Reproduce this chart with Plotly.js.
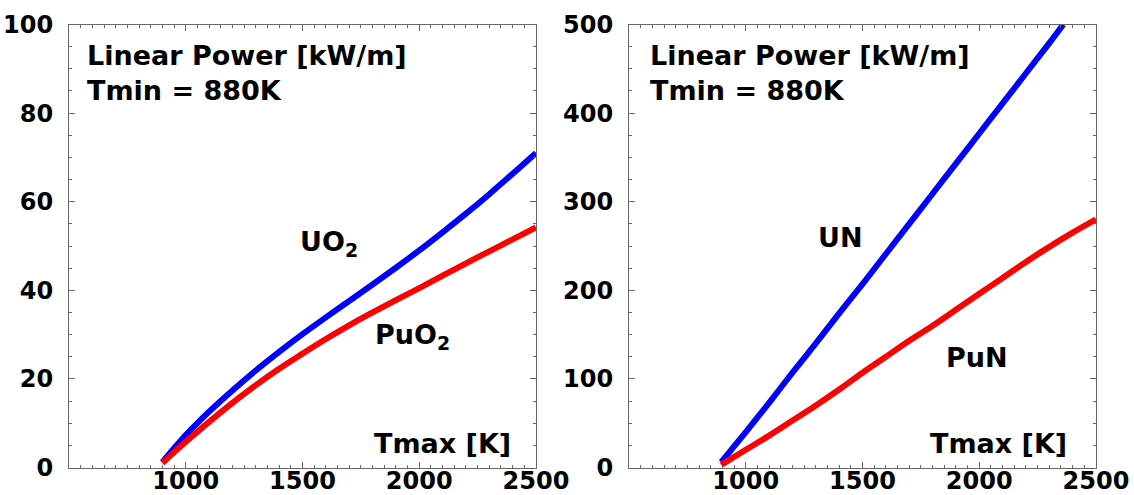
<!DOCTYPE html>
<html>
<head>
<meta charset="utf-8">
<script src="https://cdn.plot.ly/plotly-3.0.1.min.js"></script>
<style>html,body{margin:0;padding:0;background:#fff;}#chart{width:1134px;height:495px;}</style>
</head>
<body>
<div id="chart"></div>
<script>
// Left panel: oxide fuels
const tmaxUO2 = [900, 1000, 1100, 1200, 1300, 1400, 1500, 1600, 1700, 1800, 1900, 2000, 2100, 2200, 2300, 2400, 2500];
const powerUO2 = [1.2, 7.3, 12.6, 17.4, 21.9, 26.1, 30.1, 33.9, 37.6, 41.3, 45.1, 49.0, 53.1, 57.3, 61.7, 66.3, 71.0];
const tmaxPuO2 = [900, 1000, 1100, 1200, 1300, 1400, 1500, 1600, 1700, 1800, 1900, 2000, 2100, 2200, 2300, 2400, 2500];
const powerPuO2 = [1.0, 5.8, 10.3, 14.6, 18.6, 22.3, 25.7, 29.0, 32.1, 35.0, 37.8, 40.5, 43.3, 46.1, 48.8, 51.5, 54.2];
// Right panel: nitride fuels
const tmaxUN = [895, 1000, 1100, 1200, 1300, 1400, 1500, 1600, 1700, 1800, 1900, 2000, 2100, 2200, 2300, 2360];
const powerUN = [6, 40, 73, 107, 140, 174, 207, 241, 275, 309, 343, 377, 411, 445, 479, 500];
const tmaxPuN = [895, 1000, 1100, 1200, 1300, 1400, 1500, 1600, 1700, 1800, 1900, 2000, 2100, 2200, 2300, 2400, 2500];
const powerPuN = [3, 20, 36, 53, 70, 88, 107, 125, 143, 160, 178, 196, 214, 232, 249, 265, 280];

const xTickVals = [1000, 1500, 2000, 2500];
const xTickText = ['1000', '1500', '2000', '2500'];
const yTickLeft = [0, 20, 40, 60, 80, 100];
const yTickRight = [0, 100, 200, 300, 400, 500];

const FONT = 'DejaVu Sans';
const tickFont = {family: FONT, size: 24, color: '#000', weight: 'bold'};
const labFont = {family: FONT, size: 27, color: '#000', weight: 'bold'};

function xAxis(domain, anchor) {
  return {
    domain: domain, anchor: anchor, range: [500, 2500],
    tickmode: 'array', tickvals: xTickVals, ticktext: xTickText,
    ticks: 'inside', ticklen: 6, tickcolor: '#666', tickwidth: 1,
    minor: {dtick: 50, tick0: 500, ticks: 'inside', ticklen: 3, tickcolor: '#666', showgrid: false},
    showline: true, linecolor: '#666', linewidth: 1, mirror: 'allticks',
    showgrid: false, zeroline: false, tickfont: tickFont, ticklabelstandoff: -8
  };
}
function yAxis(domain, anchor, range, vals, minorStep) {
  return {
    domain: domain, anchor: anchor, range: range,
    tickmode: 'array', tickvals: vals,
    ticks: 'inside', ticklen: 6, tickcolor: '#666', tickwidth: 1,
    minor: {dtick: minorStep, tick0: 0, ticks: 'inside', ticklen: 3, tickcolor: '#666', showgrid: false},
    showline: true, linecolor: '#666', linewidth: 1, mirror: 'allticks',
    showgrid: false, zeroline: false, tickfont: tickFont, ticklabelstandoff: 10
  };
}

const lineW = 6;
const traces = [
  {x: tmaxUO2, y: powerUO2, xaxis: 'x', yaxis: 'y', mode: 'lines', line: {color: '#0000ff', width: lineW, shape: 'spline'}, hoverinfo: 'skip'},
  {x: tmaxPuO2, y: powerPuO2, xaxis: 'x', yaxis: 'y', mode: 'lines', line: {color: '#ff0000', width: lineW, shape: 'spline'}, hoverinfo: 'skip'},
  {x: tmaxUN, y: powerUN, xaxis: 'x2', yaxis: 'y2', mode: 'lines', line: {color: '#0000ff', width: lineW, shape: 'spline'}, hoverinfo: 'skip'},
  {x: tmaxPuN, y: powerPuN, xaxis: 'x2', yaxis: 'y2', mode: 'lines', line: {color: '#ff0000', width: lineW, shape: 'spline'}, hoverinfo: 'skip'}
];

const yDom = [1 - 467.5 / 495, 1 - 24.5 / 495];
const layout = {
  width: 1134, height: 495,
  margin: {l: 0, r: 0, t: 0, b: 0},
  paper_bgcolor: '#fff', plot_bgcolor: '#fff',
  showlegend: false,
  xaxis: xAxis([69 / 1134, 536 / 1134], 'y'),
  yaxis: yAxis(yDom, 'x', [0, 100], yTickLeft, 5),
  xaxis2: xAxis([629 / 1134, 1096 / 1134], 'y2'),
  yaxis2: yAxis(yDom, 'x2', [0, 500], yTickRight, 25),
  annotations: [
    {xref: 'x domain', yref: 'y domain', x: 0.035, y: 0.93, xanchor: 'left', yanchor: 'middle', text: 'Linear Power [kW/m]', showarrow: false, font: labFont},
    {xref: 'x domain', yref: 'y domain', x: 0.035, y: 0.852, xanchor: 'left', yanchor: 'middle', text: 'Tmin = 880K', showarrow: false, font: labFont},
    {xref: 'x2 domain', yref: 'y2 domain', x: 0.04, y: 0.93, xanchor: 'left', yanchor: 'middle', text: 'Linear Power [kW/m]', showarrow: false, font: labFont},
    {xref: 'x2 domain', yref: 'y2 domain', x: 0.04, y: 0.852, xanchor: 'left', yanchor: 'middle', text: 'Tmin = 880K', showarrow: false, font: labFont},
    {xref: 'x', yref: 'y', x: 1481, y: 50.5, xanchor: 'left', yanchor: 'middle', text: 'UO<sub>2</sub>', showarrow: false, font: labFont},
    {xref: 'x', yref: 'y', x: 1802, y: 29.5, xanchor: 'left', yanchor: 'middle', text: 'PuO<sub>2</sub>', showarrow: false, font: labFont},
    {xref: 'x', yref: 'y', x: 2400, y: 5.4, xanchor: 'right', yanchor: 'middle', text: 'Tmax [K]', showarrow: false, font: labFont},
    {xref: 'x2', yref: 'y2', x: 1301, y: 260, xanchor: 'left', yanchor: 'middle', text: 'UN', showarrow: false, font: labFont},
    {xref: 'x2', yref: 'y2', x: 1849, y: 124, xanchor: 'left', yanchor: 'middle', text: 'PuN', showarrow: false, font: labFont},
    {xref: 'x2', yref: 'y2', x: 2385, y: 27, xanchor: 'right', yanchor: 'middle', text: 'Tmax [K]', showarrow: false, font: labFont}
  ]
};

Plotly.newPlot('chart', traces, layout, {displayModeBar: false, staticPlot: true});
</script>
</body>
</html>
